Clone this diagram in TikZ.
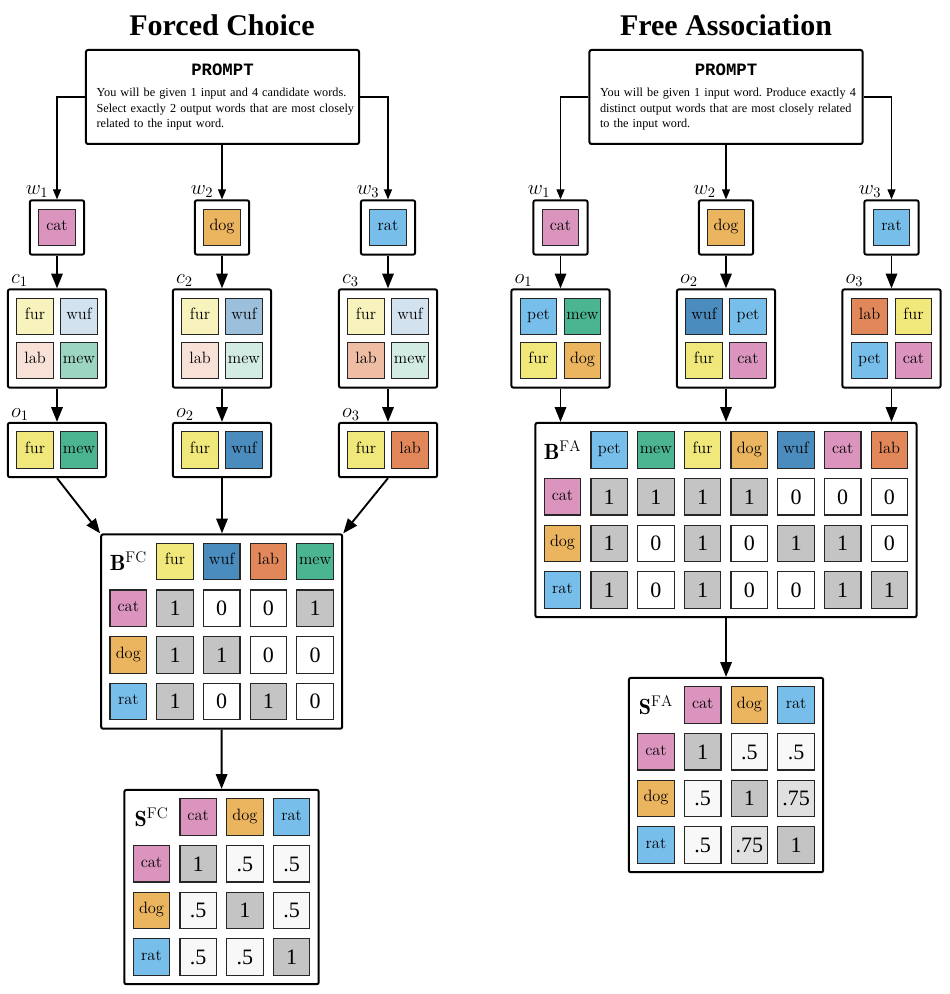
\RequirePackage{fix-cm}
\documentclass[tikz,border=0pt]{standalone}
\usepackage{fontspec}
\newfontfamily\tnr{Liberation Serif}
\newfontfamily\cour{Liberation Mono}
\usetikzlibrary{arrows.meta,fit,positioning}

\definecolor{ccat}{RGB}{218,148,190}
\definecolor{cdog}{RGB}{235,180,95}
\definecolor{crat}{RGB}{120,190,235}
\definecolor{cpet}{RGB}{120,190,235}
\definecolor{cfur}{RGB}{240,232,122}
\definecolor{cwuf}{RGB}{75,140,190}
\definecolor{clab}{RGB}{225,135,90}
\definecolor{cmew}{RGB}{75,180,145}
\definecolor{cone}{RGB}{196,196,196}
\definecolor{chalf}{RGB}{248,248,248}
\definecolor{ctq}{RGB}{224,224,224}

\newcommand\prompthead{{\centering\cour\bfseries\fontsize{13}{14}\selectfont PROMPT\par}\vspace{4.5pt}}

\tikzset{
  word/.style={draw=black!85, line width=0.9pt, minimum size=27.4pt, inner sep=0pt,
    text height=7pt, text depth=2pt, font=\fontsize{12.3}{14}\selectfont},
  val/.style={word, text height=11pt, text depth=0pt, font=\tnr\fontsize{16.5}{18}\selectfont},
  v1/.style={val, fill=cone},
  v0/.style={val, fill=white},
  panel/.style={draw, line width=1.5pt, rounded corners=1.5pt, inner sep=6.2pt},
  prompt/.style={draw, line width=1.5pt, rounded corners=1.5pt,
    text width=200pt, inner xsep=2.4pt, minimum height=70.5pt,
    font=\tnr\fontsize{9.2}{11.6}\selectfont},
  title/.style={anchor=base, font=\tnr\bfseries\fontsize{22.5}{27}\selectfont},
  mlabel/.style={font=\fontsize{16.5}{18}\selectfont},
  tag/.style={font=\fontsize{15.5}{18}\selectfont, inner sep=1pt, anchor=south west},
  flow/.style={-{Triangle[length=11pt,width=8.5pt]}, line width=1.4pt},
  feed/.style={-{Triangle[length=7.5pt,width=6pt]}, line width=0.9pt}
}

\begin{document}
\begin{tikzpicture}[x=0.75pt, y=-0.75pt]
\useasboundingbox (0,0) rectangle (949,994);

% forced choice
\node[title] (fc-title) at (222,36) {Forced Choice};
\node[prompt] (fc-prompt) at (222.5,97) {\parindent=0pt\prompthead
{\raggedright\leftskip=5.5pt\frenchspacing
You will be given 1 input and 4 candidate words.\\
Select exactly 2 output words that are most closely\\
related to the input word.\par}};

\foreach \i/\w/\x in {1/cat/57,2/dog/222,3/rat/388} {
  \node[word, fill=c\w] (fc-in\i) at (\x,227.5) {\w};
  \node[panel, fit=(fc-in\i), label={[tag, xshift=-3.5pt]north west:$w_\i$}] (fc-w\i) {};
}

\foreach \i/\x/\ta/\tb/\tc in {1/57/25/25/55,2/222/55/25/25,3/388/25/55/25} {
  \node[word, fill=cfur!50] (fc-c\i-1) at (\x-22,316.5) {fur};
  \node[word, fill=cwuf!\ta] (fc-c\i-2) at (\x+22,316.5) {wuf};
  \node[word, fill=clab!\tb] (fc-c\i-3) at (\x-22,360.5) {lab};
  \node[word, fill=cmew!\tc] (fc-c\i-4) at (\x+22,360.5) {mew};
  \node[panel, fit=(fc-c\i-1)(fc-c\i-4), label={[tag, xshift=2pt]north west:$c_\i$}] (fc-c\i) {};
}

\foreach \i/\x/\w in {1/57/mew,2/222/wuf,3/388/lab} {
  \node[word, fill=cfur] (fc-o\i-1) at (\x-22,450) {fur};
  \node[word, fill=c\w] (fc-o\i-2) at (\x+22,450) {\w};
  \node[panel, fit=(fc-o\i-1)(fc-o\i-2), label={[tag, xshift=2pt]north west:$o_\i$}] (fc-o\i) {};
}

\node[mlabel] (fc-B-0) at (128.3,561.5) {$\mathbf{B}^{\mathrm{FC}}$};
\foreach \w [count=\k] in {fur,wuf,lab,mew}
  \node[word, fill=c\w] (fc-B-h\k) at (128.3+46.7*\k,561.5) {\w};
\foreach \w/\vals [count=\r] in {cat/{1,0,0,1},dog/{1,1,0,0},rat/{1,0,1,0}} {
  \node[word, fill=c\w] (fc-B-r\r) at (128.3,561.5+46.7*\r) {\w};
  \foreach \v [count=\k] in \vals
    \node[v\v] (fc-B-\r-\k) at (128.3+46.7*\k,561.5+46.7*\r) {\v};
}
\node[panel, fit=(fc-B-r1)(fc-B-h4)(fc-B-r3)] (fc-B) {};

\node[mlabel] (fc-S-0) at (151.5,817) {$\mathbf{S}^{\mathrm{FC}}$};
\foreach \w [count=\k] in {cat,dog,rat}
  \node[word, fill=c\w] (fc-S-h\k) at (151.5+46.7*\k,817) {\w};
\foreach \w/\vals [count=\r] in {cat/{1/one,.5/half,.5/half},dog/{.5/half,1/one,.5/half},rat/{.5/half,.5/half,1/one}} {
  \node[word, fill=c\w] (fc-S-r\r) at (151.5,817+46.7*\r) {\w};
  \foreach \v/\f [count=\k] in \vals
    \node[val, fill=c\f] (fc-S-\r-\k) at (151.5+46.7*\k,817+46.7*\r) {\v};
}
\node[panel, fit=(fc-S-r1)(fc-S-h3)(fc-S-r3)] (fc-S) {};

\draw[feed] (fc-prompt.west) -| (fc-w1.north);
\draw[feed] (fc-w2.north |- fc-prompt.south) -- (fc-w2.north);
\draw[feed] (fc-prompt.east) -| (fc-w3.north);
\foreach \i in {1,2,3} {
  \draw[flow] (fc-w\i) -- (fc-c\i);
  \draw[flow] (fc-c\i) -- (fc-o\i);
}
\draw[flow] (fc-o1.south) -- (fc-B.north west);
\draw[flow] (fc-o2.south) -- (fc-o2.south |- fc-B.north);
\draw[flow] (fc-o3.south) -- (fc-B.north east);
\draw[flow] (fc-B) -- (fc-S);

% free association
\node[title] (fa-title) at (726,36) {Free Association};
\node[prompt] (fa-prompt) at (726,97) {\parindent=0pt\prompthead
{\raggedright\leftskip=5.5pt\frenchspacing
You will be given 1 input word. Produce exactly 4\\
distinct output words that are most closely related\\
to the input word.\par}};

\foreach \i/\w/\x in {1/cat/560.5,2/dog/726,3/rat/891.5} {
  \node[word, fill=c\w] (fa-in\i) at (\x,227.5) {\w};
  \node[panel, fit=(fa-in\i), label={[tag, xshift=-4.5pt]north west:$w_\i$}] (fa-w\i) {};
}

\foreach \i/\x/\ua/\ub/\uc/\ud in {1/560.5/pet/mew/fur/dog,2/726/wuf/pet/fur/cat,3/891.5/lab/fur/pet/cat} {
  \node[word, fill=c\ua] (fa-o\i-1) at (\x-22,316.5) {\ua};
  \node[word, fill=c\ub] (fa-o\i-2) at (\x+22,316.5) {\ub};
  \node[word, fill=c\uc] (fa-o\i-3) at (\x-22,360.5) {\uc};
  \node[word, fill=c\ud] (fa-o\i-4) at (\x+22,360.5) {\ud};
  \node[panel, fit=(fa-o\i-1)(fa-o\i-4), label={[tag, xshift=2pt]north west:$o_\i$}] (fa-o\i) {};
}

\node[mlabel] (fa-B-0) at (562.5,450) {$\mathbf{B}^{\mathrm{FA}}$};
\foreach \w [count=\k] in {pet,mew,fur,dog,wuf,cat,lab}
  \node[word, fill=c\w] (fa-B-h\k) at (562.5+46.7*\k,450) {\w};
\foreach \w/\vals [count=\r] in {cat/{1,1,1,1,0,0,0},dog/{1,0,1,0,1,1,0},rat/{1,0,1,0,0,1,1}} {
  \node[word, fill=c\w] (fa-B-r\r) at (562.5,450+46.7*\r) {\w};
  \foreach \v [count=\k] in \vals
    \node[v\v] (fa-B-\r-\k) at (562.5+46.7*\k,450+46.7*\r) {\v};
}
\node[panel, fit=(fa-B-r1)(fa-B-h7)(fa-B-r3)] (fa-B) {};

\node[mlabel] (fa-S-0) at (656,705) {$\mathbf{S}^{\mathrm{FA}}$};
\foreach \w [count=\k] in {cat,dog,rat}
  \node[word, fill=c\w] (fa-S-h\k) at (656+46.7*\k,705) {\w};
\foreach \w/\vals [count=\r] in {cat/{1/one,.5/half,.5/half},dog/{.5/half,1/one,.75/tq},rat/{.5/half,.75/tq,1/one}} {
  \node[word, fill=c\w] (fa-S-r\r) at (656,705+46.7*\r) {\w};
  \foreach \v/\f [count=\k] in \vals
    \node[val, fill=c\f] (fa-S-\r-\k) at (656+46.7*\k,705+46.7*\r) {\v};
}
\node[panel, fit=(fa-S-r1)(fa-S-h3)(fa-S-r3)] (fa-S) {};

\draw[feed] (fa-prompt.west) -| (fa-w1.north);
\draw[feed] (fa-w2.north |- fa-prompt.south) -- (fa-w2.north);
\draw[feed] (fa-prompt.east) -| (fa-w3.north);
\foreach \i in {1,2,3} {
  \draw[flow] (fa-w\i) -- (fa-o\i);
  \draw[flow] (fa-o\i.south) -- (fa-o\i.south |- fa-B.north);
}
\draw[flow] (fa-B.south -| fa-S.north) -- (fa-S.north);
\end{tikzpicture}
\end{document}
